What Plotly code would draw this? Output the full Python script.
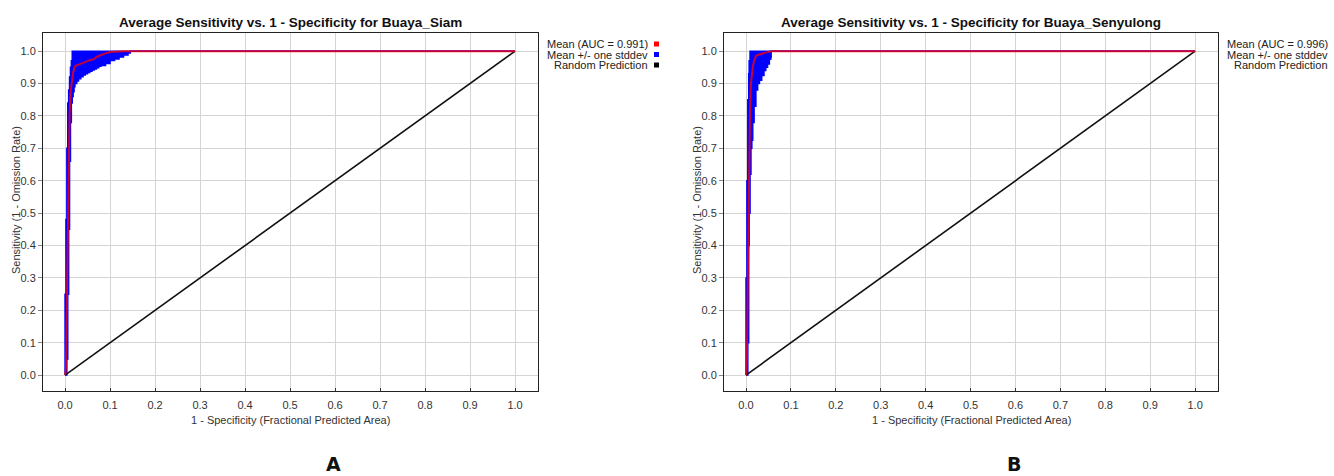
import plotly.graph_objects as go

# ---------------- data ----------------
siam_x = [0, 0.002, 0.004, 0.006, 0.008, 0.010, 0.012, 0.014, 0.016, 0.018, 0.020, 0.022,
          0.026, 0.030, 0.035, 0.040, 0.045, 0.050, 0.055, 0.060, 0.065, 0.070, 0.075, 0.080,
          0.090, 0.100, 0.110, 0.120, 0.130, 0.140, 0.145, 1.0]
siam_mean = [0, 0.02, 0.22, 0.45, 0.66, 0.80, 0.87, 0.90, 0.92, 0.935, 0.945, 0.953,
             0.956, 0.958, 0.960, 0.962, 0.966, 0.969, 0.972, 0.974, 0.976, 0.982, 0.986, 0.988,
             0.993, 0.997, 0.998, 1.0, 1.0, 1.0, 1.0, 1.0]
siam_upper = [0, 0.25, 0.48, 0.70, 0.84, 0.88, 0.92, 0.95, 0.97, 1.0, 1.0, 1.0,
              1.0, 1.0, 1.0, 1.0, 1.0, 1.0, 1.0, 1.0, 1.0, 1.0, 1.0, 1.0,
              1.0, 1.0, 1.0, 1.0, 1.0, 1.0, 1.0, 1.0]
siam_lower = [0, 0.0, 0.05, 0.25, 0.45, 0.66, 0.78, 0.84, 0.86, 0.875, 0.89, 0.90,
              0.908, 0.915, 0.921, 0.926, 0.930, 0.934, 0.938, 0.942, 0.945, 0.949, 0.953, 0.956,
              0.962, 0.971, 0.976, 0.982, 0.988, 0.994, 1.0, 1.0]

seny_x = [0, 0.002, 0.004, 0.006, 0.007, 0.009, 0.011, 0.013, 0.015, 0.018, 0.022, 0.026,
          0.030, 0.035, 0.040, 0.044, 0.048, 0.052, 0.055, 0.056, 1.0]
seny_mean = [0, 0.05, 0.30, 0.58, 0.72, 0.82, 0.90, 0.93, 0.95, 0.97, 0.985, 0.988,
             0.990, 0.992, 0.994, 0.996, 0.997, 0.998, 1.0, 1.0, 1.0]
seny_upper = [0, 0.30, 0.60, 0.85, 0.93, 0.97, 1.0, 1.0, 1.0, 1.0, 1.0, 1.0,
              1.0, 1.0, 1.0, 1.0, 1.0, 1.0, 1.0, 1.0, 1.0]
seny_lower = [0, 0.0, 0.10, 0.40, 0.50, 0.62, 0.70, 0.725, 0.78, 0.83, 0.88, 0.90,
              0.91, 0.925, 0.94, 0.95, 0.96, 0.975, 0.98, 1.0, 1.0]

random_x = [0.0, 1.0]
random_y = [0.0, 1.0]

titles = ["Average Sensitivity vs. 1 - Specificity for Buaya_Siam",
          "Average Sensitivity vs. 1 - Specificity for Buaya_Senyulong"]
auc_values = ["0.991", "0.996"]
panel_letters = ["A", "B"]
legend_labels = ["Mean (AUC = {})", "Mean +/- one stddev", "Random Prediction"]
legend_colors = ["#ff0000", "#0000ff", "#000000"]
x_title = "1 - Specificity (Fractional Predicted Area)"
y_title = "Sensitivity (1 - Omission Rate)"
tick_vals = [0.0, 0.1, 0.2, 0.3, 0.4, 0.5, 0.6, 0.7, 0.8, 0.9, 1.0]
tick_text = ["0.0", "0.1", "0.2", "0.3", "0.4", "0.5", "0.6", "0.7", "0.8", "0.9", "1.0"]

# ---------------- layout helpers ----------------
W, H = 1334, 476
def px(x):
    return x / W
def py(y):
    return 1 - y / H

panels = [
    dict(x=siam_x, mean=siam_mean, up=siam_upper, lo=siam_lower, left=43, right=538),
    dict(x=seny_x, mean=seny_mean, up=seny_upper, lo=seny_lower, left=724, right=1218),
]
top, bottom = 33, 391
FONT = "Liberation Sans, Arial, sans-serif"

fig = go.Figure()
annotations = []
shapes = []

for i, p in enumerate(panels):
    xa = "x" if i == 0 else "x2"
    ya = "y" if i == 0 else "y2"
    # band: lower then upper filled to lower
    fig.add_trace(go.Scatter(x=p["x"], y=p["lo"], mode="lines", line=dict(color="#0000ff", width=1.5, shape="hv"),
                             xaxis=xa, yaxis=ya, showlegend=False, hoverinfo="skip"))
    fig.add_trace(go.Scatter(x=p["x"], y=p["up"], mode="lines", line=dict(color="#0000ff", width=1.5, shape="vh"),
                             fill="tonexty", fillcolor="#0000ff",
                             xaxis=xa, yaxis=ya, showlegend=False, hoverinfo="skip"))
    # random prediction
    fig.add_trace(go.Scatter(x=random_x, y=random_y, mode="lines", line=dict(color="#111111", width=1.6),
                             xaxis=xa, yaxis=ya, showlegend=False, hoverinfo="skip"))
    # mean
    fig.add_trace(go.Scatter(x=p["x"], y=p["mean"], mode="lines", line=dict(color="#ff0000", width=2),
                             opacity=0.78, xaxis=xa, yaxis=ya, showlegend=False, hoverinfo="skip"))

    cx = (p["left"] + p["right"]) / 2
    # title
    annotations.append(dict(text="<b>" + titles[i] + "</b>", x=px(cx), y=py(22), xref="paper", yref="paper",
                            xanchor="center", yanchor="middle", showarrow=False,
                            font=dict(family=FONT, size=13.5, color="#111111")))
    # axis titles
    annotations.append(dict(text=x_title, x=px(cx), y=py(420), xref="paper", yref="paper",
                            xanchor="center", yanchor="middle", showarrow=False,
                            font=dict(family=FONT, size=11, color="#333333")))
    annotations.append(dict(text=y_title, x=px(p["left"] - 27), y=py(200), xref="paper", yref="paper",
                            xanchor="center", yanchor="middle", showarrow=False, textangle=-90,
                            font=dict(family=FONT, size=11, color="#333333")))
    # legend
    for j, lab in enumerate(legend_labels):
        txt = lab.format(auc_values[i]) if j == 0 else lab
        ly = 44 + j * 10.5
        annotations.append(dict(text=txt, x=px(p["right"] + 112), y=py(ly), xref="paper", yref="paper",
                                xanchor="right", yanchor="middle", showarrow=False,
                                font=dict(family=FONT, size=11, color="#222222")))
        sx = p["right"] + 116
        shapes.append(dict(type="rect", xref="paper", yref="paper",
                           x0=px(sx), x1=px(sx + 5), y0=py(ly + 2.5), y1=py(ly - 2.5),
                           fillcolor=legend_colors[j], line=dict(width=0)))
    # panel letter
    annotations.append(dict(text="<b>" + panel_letters[i] + "</b>", x=px(cx + 43), y=py(464), xref="paper", yref="paper",
                            xanchor="center", yanchor="middle", showarrow=False,
                            font=dict(family="DejaVu Sans, sans-serif", size=19, color="#111111")))

axis_common = dict(showgrid=True, gridcolor="#d4d4d4", gridwidth=1, zeroline=False,
                   showline=True, linecolor="#222222", linewidth=1, mirror=True,
                   tickfont=dict(family=FONT, size=11, color="#333333"),
                   tickvals=tick_vals, ticktext=tick_text)

layout_axes = {}
for i, p in enumerate(panels):
    sfx = "" if i == 0 else "2"
    layout_axes["xaxis" + sfx] = dict(axis_common, domain=[px(p["left"]), px(p["right"])], range=[-0.049, 1.051],
                                      anchor="y" + sfx, ticks="inside", ticklen=3, tickcolor="#333333",
                                      ticklabelstandoff=4)
    layout_axes["yaxis" + sfx] = dict(axis_common, domain=[py(bottom), py(top)], range=[-0.049, 1.056],
                                      anchor="x" + sfx, ticks="outside", ticklen=4, tickcolor="#888888",
                                      ticklabelstandoff=0)

fig.update_layout(width=W, height=H, autosize=False, margin=dict(l=0, r=0, t=0, b=0),
                  paper_bgcolor="white", plot_bgcolor="white", showlegend=False,
                  annotations=annotations, shapes=shapes, **layout_axes)

fig.write_html("out.html", config={"displayModeBar": False},
               post_script="document.body.style.margin='0';")
